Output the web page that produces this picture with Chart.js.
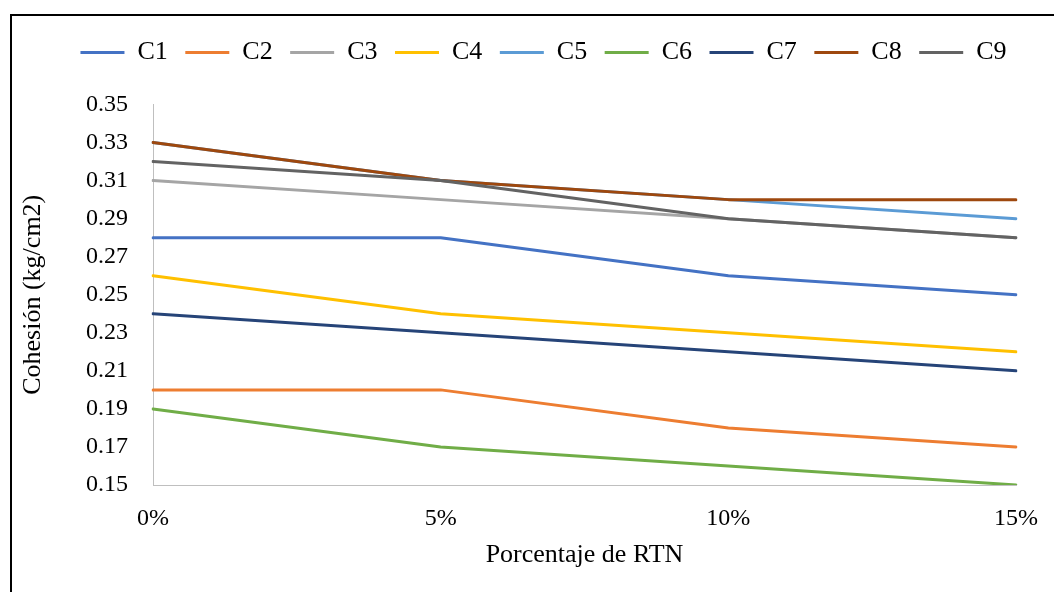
<!DOCTYPE html>
<html>
<head>
<meta charset="utf-8">
<script src="https://cdn.jsdelivr.net/npm/chart.js@4/dist/chart.umd.min.js"></script>
<style>
  html, body { margin: 0; padding: 0; background: #fff; }
  #wrap { position: relative; width: 1054px; height: 592px; overflow: hidden; background: #fff; }
  #c { position: absolute; left: 0; top: 0; }
  /* chart frame: only the top and left edges fall inside the page */
  #frame { position: absolute; left: 10px; top: 14px; right: -10px; bottom: -10px;
           border-left: 2px solid #000; border-top: 2px solid #000; pointer-events: none; }
</style>
</head>
<body>
<div id="wrap">
  <canvas id="c" width="1054" height="592"></canvas>
  <div id="frame"></div>
</div>
<script>
// Percentage of RTN added
const categories = ['0%', '5%', '10%', '15%'];

// Cohesion (kg/cm2) per mix
const c1 = [0.28, 0.28, 0.26, 0.25];
const c2 = [0.20, 0.20, 0.18, 0.17];
const c3 = [0.31, 0.30, 0.29, 0.28];
const c4 = [0.26, 0.24, 0.23, 0.22];
const c5 = [0.33, 0.31, 0.30, 0.29];
const c6 = [0.19, 0.17, 0.16, 0.15];
const c7 = [0.24, 0.23, 0.22, 0.21];
const c8 = [0.33, 0.31, 0.30, 0.30];
const c9 = [0.32, 0.31, 0.29, 0.28];

const seriesNames = ['C1', 'C2', 'C3', 'C4', 'C5', 'C6', 'C7', 'C8', 'C9'];
const seriesValues = [c1, c2, c3, c4, c5, c6, c7, c8, c9];
const seriesColors = ['#4472C4', '#ED7D31', '#A5A5A5', '#FFC000', '#5B9BD5',
                      '#70AD47', '#264478', '#9E480E', '#636363'];

// y axis range and tick step
const yMin = 0.15;
const yMax = 0.35;
const yStep = 0.02;

const FONT = 'Liberation Serif';
const AXIS_GREY = '#BFBFBF';

const datasets = seriesNames.map((name, i) => ({
  label: name,
  data: seriesValues[i],
  borderColor: seriesColors[i],
  backgroundColor: seriesColors[i],
  borderWidth: 3,
  borderCapStyle: 'round',
  borderJoinStyle: 'round',
  pointRadius: 0,
  pointHoverRadius: 0,
  tension: 0,
  // later series are painted on top
  order: seriesNames.length - i
}));

new Chart(document.getElementById('c'), {
  type: 'line',
  data: { labels: categories, datasets },
  options: {
    responsive: false,
    animation: false,
    devicePixelRatio: 1,
    layout: { padding: { left: 33, right: 0, top: 22, bottom: 0 } },
    plugins: {
      tooltip: { enabled: false },
      legend: {
        position: 'top',
        labels: {
          font: { family: FONT, size: 26 },
          color: '#000',
          usePointStyle: true,
          pointStyle: 'line',
          pointStyleWidth: 44,
          padding: 17.5,
          sort: (a, b) => a.datasetIndex - b.datasetIndex
        }
      },
      // blank spacer between the legend and the plot
      subtitle: {
        display: true,
        text: '',
        weight: 500,
        font: { size: 10, lineHeight: 1 },
        padding: { top: 0, bottom: 19 }
      }
    },
    scales: {
      x: {
        type: 'category',
        offset: false,
        grid: { display: false, drawTicks: false },
        border: { display: true, color: AXIS_GREY, width: 1 },
        ticks: {
          font: { family: FONT, size: 24 },
          color: '#000',
          padding: 19,
          maxRotation: 0,
          autoSkip: false
        },
        title: {
          display: true,
          text: 'Porcentaje de RTN',
          font: { family: FONT, size: 26 },
          color: '#000',
          padding: { top: 0, bottom: 21 }
        },
        afterFit: (scale) => {
          scale.height = 107;
          scale.paddingRight = 38;
        }
      },
      y: {
        min: yMin,
        max: yMax,
        grid: { display: false, drawTicks: false },
        border: { display: true, color: AXIS_GREY, width: 1 },
        ticks: {
          stepSize: yStep,
          font: { family: FONT, size: 24 },
          color: '#000',
          padding: 25,
          callback: (v) => Number(v).toFixed(2)
        },
        title: {
          display: true,
          text: 'Cohesión (kg/cm2)',
          font: { family: FONT, size: 26 },
          color: '#000',
          padding: { top: -15.6, bottom: 0 }
        },
        afterFit: (scale) => {
          scale.width = 120;
        }
      }
    }
  }
});
</script>
</body>
</html>
